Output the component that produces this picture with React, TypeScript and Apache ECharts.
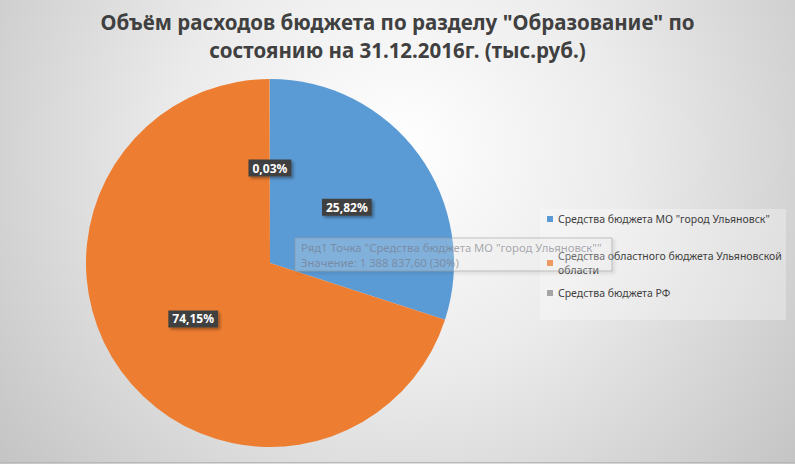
import React, { useEffect, useRef } from 'react';
import * as echarts from 'echarts';

const categories = [
  'Средства бюджета МО "город Ульяновск"',
  'Средства областного бюджета Ульяновской области',
  'Средства бюджета РФ',
];
const legendLabels = [
  'Средства бюджета МО "город Ульяновск"',
  'Средства областного бюджета Ульяновской\nобласти',
  'Средства бюджета РФ',
];
// slice sizes as drawn in the picture (tooltip: 1 388 837,60 = 30%)
const values = [1388837.6, 3239800, 1400];
// data label texts as printed on the chart
const sliceLabels = ['25,82%', '74,15%', '0,03%'];
const colors = ['#5b9bd5', '#ed7d31', '#a5a5a5'];
const titleText = 'Объём расходов бюджета по разделу "Образование" по\nсостоянию на 31.12.2016г. (тыс.руб.)';
const tooltipLines = [
  'Ряд1 Точка "Средства бюджета МО "город Ульяновск""',
  'Значение: 1 388 837,60 (30%)',
];

const FONT = '"Noto Sans", "Open Sans", sans-serif';

export default function App() {
  const ref = useRef<HTMLDivElement>(null);
  useEffect(() => {
    if (!ref.current) return;
    const chart = echarts.init(ref.current, null, { renderer: 'svg' });
    const legendTops = [207, 244, 281];
    const option: any = {
      animation: false,
      title: {
        text: titleText,
        left: 'center',
        top: 3,
        textStyle: {
          fontFamily: FONT,
          fontSize: 20.5,
          fontWeight: 'bold',
          color: '#404040',
          lineHeight: 28,
        },
      },
      legend: categories.map((c, i) => ({
        data: [c],
        orient: 'vertical',
        left: 542,
        top: legendTops[i],
        icon: 'rect',
        itemWidth: 6,
        itemHeight: 6,
        selectedMode: false,
        formatter: () => legendLabels[i],
        textStyle: {
          fontFamily: FONT,
          fontSize: 10.5,
          color: '#404040',
          lineHeight: 14,
        },
      })),
      graphic: [
        {
          type: 'rect',
          z: -10,
          silent: true,
          shape: { x: 0, y: 0, width: 795, height: 464 },
          style: {
            fill: {
              type: 'radial',
              x: 400,
              y: 150,
              r: 500,
              global: true,
              colorStops: [
                { offset: 0, color: '#ffffff' },
                { offset: 0.45, color: '#ebebeb' },
                { offset: 1, color: '#c5c5c5' },
              ],
            },
          },
        },
        {
          type: 'line',
          z: -9,
          silent: true,
          shape: { x1: 0, y1: 462.5, x2: 795, y2: 462.5 },
          style: { stroke: '#b8b8b8', lineWidth: 1 },
        },
        {
          type: 'rect',
          z: 1,
          silent: true,
          shape: { x: 540, y: 209, width: 246, height: 111 },
          style: { fill: 'rgba(255,255,255,0.3)' },
        },
        {
          type: 'rect',
          z: 50,
          silent: true,
          shape: { x: 295, y: 238, width: 317, height: 33 },
          style: {
            fill: 'rgba(255,255,255,0.22)',
            stroke: 'rgba(150,150,150,0.55)',
            lineWidth: 1,
            shadowBlur: 3,
            shadowOffsetX: 2,
            shadowOffsetY: 2,
            shadowColor: 'rgba(0,0,0,0.25)',
          },
        },
        {
          type: 'text',
          z: 51,
          silent: true,
          x: 301,
          y: 240,
          style: {
            text: tooltipLines.join('\n'),
            fontFamily: FONT,
            fontSize: 11.3,
            lineHeight: 15,
            fill: 'rgba(115,115,125,0.6)',
          },
        },
      ],
      series: [
        {
          type: 'pie',
          center: [270, 263],
          radius: 184,
          startAngle: 90,
          clockwise: true,
          color: colors,
          avoidLabelOverlap: false,
          label: {
            show: true,
            position: 'inside',
            formatter: (p: any) => sliceLabels[p.dataIndex],
            fontFamily: FONT,
            fontSize: 12,
            fontWeight: 'bold',
            color: '#ffffff',
            backgroundColor: '#404040',
            padding: [3, 4, 2, 4],
            shadowColor: 'rgba(0,0,0,0.35)',
            shadowBlur: 3,
            shadowOffsetX: 2,
            shadowOffsetY: 2,
          },
          labelLine: { show: false },
          emphasis: { disabled: true },
          data: categories.map((c, i) => ({ name: c, value: values[i] })),
        },
      ],
    };
    chart.setOption(option);
    return () => chart.dispose();
  }, []);
  return (
    <div
      ref={ref}
      style={{ position: 'absolute', left: 0, top: 0, width: 795, height: 464 }}
    />
  );
}
